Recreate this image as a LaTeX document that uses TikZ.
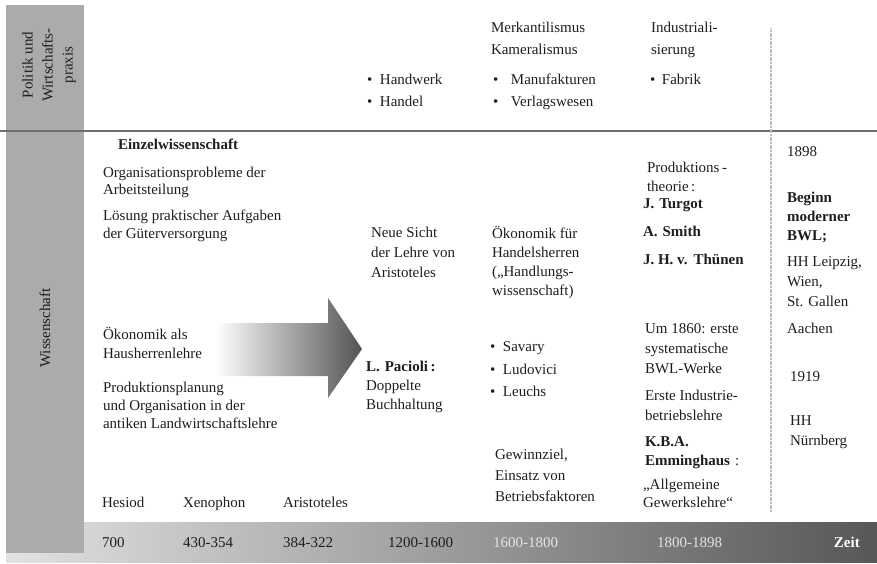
\documentclass[tikz,border=0pt]{standalone}
\usepackage{fontspec}
\setmainfont{Liberation Serif}
\definecolor{ink}{HTML}{1E1E1E}
\definecolor{colgray}{HTML}{ABABAB}
\definecolor{rulegray}{HTML}{6E6E6E}
\definecolor{dotgray}{HTML}{BDBDBD}
\definecolor{barleft}{HTML}{E2E2E2}
\definecolor{barright}{HTML}{575757}
\definecolor{bartext}{HTML}{E4E4E4}
\begin{document}
\begin{tikzpicture}[x=1pt,y=-1pt,
  txt/.style={anchor=north west, inner sep=0pt, outer sep=0pt, align=left,
    text=ink, font=\fontsize{15}{#1}\selectfont},
  txt/.default=19,
  btxt/.style={txt, font=\fontsize{15}{#1}\selectfont\bfseries},
  btxt/.default=19,
  bartxt/.style={anchor=base west, inner sep=0pt, text=ink,
    font=\fontsize{15}{18}\selectfont},
  sidelabel/.style={rotate=90, align=center, inner sep=0pt, text=ink,
    font=\fontsize{15}{20}\selectfont}]
\useasboundingbox (0,0) rectangle (877,564);

% time bar along the bottom
\shade[left color=barleft, right color=barright] (6,522) rectangle (877,562);
% grey heading column
\fill[colgray] (6,5) rectangle (84,553);
% separator between practice and science
\coordinate (ruleL) at (0,131);
\coordinate (ruleR) at (877,131);
\draw[rulegray, line width=1.8pt] (ruleL) -- (ruleR);
% boundary of the modern era
\coordinate (eraT) at (771,28);
\coordinate (eraB) at (771,512);
\draw[dotgray, line width=1.1pt, dash pattern=on 1.2pt off 0.4pt] (eraT) -- (eraB);

% development arrow
\shade[left color=white, right color=barright!95!black]
  (215,323) -- (328,323) -- (328,298) -- (362,349) -- (328,398)
  -- (328,376) -- (215,376) -- cycle;

% side labels
\node[sidelabel] (pol) at (49,65) {Politik und\\Wirtschafts-\\praxis};
\node[sidelabel] (wiss) at (45,328) {Wissenschaft};

% practice row
\node[txt=22] (hw) at (367,74) {\makebox[13pt][l]{\textbullet}Handwerk\\\makebox[13pt][l]{\textbullet}Handel};
\node[txt=22] (merk) at (491,22) {Merkantilismus\\Kameralismus};
\node[txt=22] (manu) at (493,74) {\makebox[18pt][l]{\textbullet}Manufakturen\\\makebox[18pt][l]{\textbullet}Verlagswesen};
\node[txt=22] (ind) at (651,22) {Industriali-\\sierung};
\node[txt=22] (fab) at (650,74) {\makebox[12pt][l]{\textbullet}Fabrik};

% antiquity
\node[btxt] (ezw) at (118,139) {Einzelwissenschaft};
\node[txt=17.5] (org) at (103,167) {Organisationsprobleme der\\Arbeitsteilung};
\node[txt=18] (loe) at (103,210) {Lösung praktischer Aufgaben\\der Güterversorgung};
\node[txt=19] (oek) at (103,327) {Ökonomik als\\Hausherrenlehre};
\node[txt=18] (prod) at (103,382) {Produktionsplanung\\und Organisation in der\\antiken Landwirtschaftslehre};
\node[txt] (hes) at (102,497) {Hesiod};
\node[txt] (xen) at (183,497) {Xenophon};
\node[txt] (ari) at (283,497) {Aristoteles};

% 1200-1600
\node[txt=20] (neue) at (371,227) {Neue Sicht\\der Lehre von\\Aristoteles};
\node[txt=19] (pac) at (366,361) {\textbf{L.\hspace{5pt}Pacioli\,:}\\Doppelte\\Buchhaltung};

% 1600-1800
\node[txt=19] (oekf) at (492,226) {Ökonomik für\\Handelsherren\\(„Handlungs-\\wissenschaft)};
\node[txt=22.5] (sav) at (490,342) {\makebox[13pt][l]{\textbullet}Savary\\\makebox[13pt][l]{\textbullet}Ludovici\\\makebox[13pt][l]{\textbullet}Leuchs};
\node[txt=21] (gew) at (495,449) {Gewinnziel,\\Einsatz von\\Betriebsfaktoren};

% 1800-1898
\node[txt=19] (prth) at (647,162) {Produktions\,-\\theorie\,:};
\node[btxt=28] (names) at (643,199) {J.\hspace{5pt}Turgot\\A.\hspace{5pt}Smith\\J. H. v.\hspace{6pt}Thünen};
\node[txt=20] (um) at (645,324) {Um 1860: erste\\systematische\\BWL-Werke};
\node[txt=20] (erst) at (645,390) {Erste Industrie-\\betriebslehre};
\node[txt=19] (kba) at (645,437) {\textbf{K.B.A.}\\\textbf{Emminghaus}\hspace{5pt}:};
\node[txt=18] (allg) at (643,479) {„Allgemeine\\Gewerkslehre“};

% modern business administration
\node[txt] (y1898) at (787,147) {1898};
\node[btxt=19] (beg) at (787,192) {Beginn\\moderner\\BWL;};
\node[txt=20] (hh) at (787,257) {HH Leipzig,\\Wien,\\St. Gallen\\[7pt]Aachen};
\node[txt] (y1919) at (790,372) {1919};
\node[txt=20] (hhn) at (790,416) {HH\\Nürnberg};

% periods on the time bar
\node[bartxt] (t700) at (102,547) {700};
\node[bartxt] (t430) at (183,547) {430-354};
\node[bartxt] (t384) at (283,547) {384-322};
\node[bartxt] (t1200) at (388,547) {1200-1600};
\node[bartxt, text=bartext] (t1600) at (493,547) {1600-1800};
\node[bartxt, text=bartext] (t1800) at (657,547) {1800-1898};
\node[bartxt, anchor=base east, text=white, font=\fontsize{15}{18}\selectfont\bfseries] (zeit) at (860,547) {Zeit};
\end{tikzpicture}
\end{document}
